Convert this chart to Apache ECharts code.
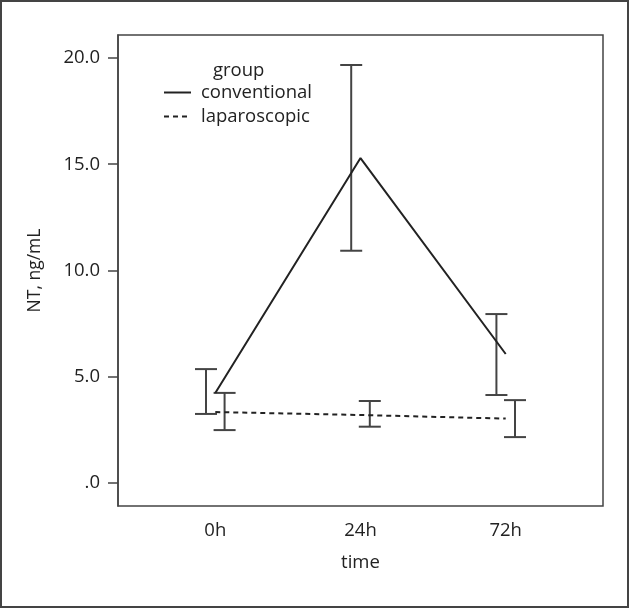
<!DOCTYPE html>
<html>
<head>
<meta charset="utf-8">
<script src="https://cdn.jsdelivr.net/npm/echarts@6/dist/echarts.min.js"></script>
<style>
html,body{margin:0;padding:0;background:#fff;}
#chart{width:630px;height:609px;}
</style>
</head>
<body>
<div id="chart"></div>
<script>
var categories = ['0h', '24h', '72h'];
var yTicks = [0, 5, 10, 15, 20];
var convMean = [4.24, 15.29, 6.07];
var convLow = [3.25, 10.93, 4.14];
var convHigh = [5.36, 19.67, 7.95];
var lapMean = [3.34, 3.20, 3.03];
var lapLow = [2.49, 2.65, 2.16];
var lapHigh = [4.24, 3.86, 3.90];

var FONT = 'Open Sans';
var FS = 18.5;
var TXT = '#222';
var OFF = 0.064;
var CAP = 11;

function errData(low, high, off) {
  return categories.map(function (c, i) { return [i + off, low[i], high[i]]; });
}
function errRender(params, api) {
  var x = api.value(0);
  var lo = api.coord([x, api.value(1)]);
  var hi = api.coord([x, api.value(2)]);
  var st = { stroke: '#444', lineWidth: 2 };
  return {
    type: 'group',
    children: [
      { type: 'line', shape: { x1: lo[0], y1: lo[1], x2: hi[0], y2: hi[1] }, style: st },
      { type: 'line', shape: { x1: lo[0] - CAP, y1: lo[1], x2: lo[0] + CAP, y2: lo[1] }, style: st },
      { type: 'line', shape: { x1: hi[0] - CAP, y1: hi[1], x2: hi[0] + CAP, y2: hi[1] }, style: st }
    ]
  };
}

var chart = echarts.init(document.getElementById('chart'), null, { renderer: 'canvas' });
chart.setOption({
  animation: false,
  backgroundColor: '#fff',
  textStyle: { fontFamily: FONT },
  title: {
    text: 'group', left: 213, top: 61, padding: 0,
    textStyle: { fontFamily: FONT, fontSize: FS, fontWeight: 'normal', color: TXT }
  },
  legend: {
    orient: 'vertical', left: 163, top: 83, itemGap: 5, padding: 0,
    itemWidth: 27, itemHeight: 14,
    itemStyle: { opacity: 0 },
    textStyle: { fontFamily: FONT, fontSize: FS, color: TXT, padding: [0, 0, 0, 5] },
    data: ['conventional', 'laparoscopic']
  },
  grid: {
    left: 118, top: 35, width: 485, height: 471,
    show: true, borderColor: '#444', borderWidth: 1.5, backgroundColor: '#fff'
  },
  xAxis: {
    type: 'value', min: -0.67, max: 2.67,
    splitLine: { show: false },
    axisLine: { show: false, onZero: false },
    axisTick: { show: false },
    axisLabel: {
      customValues: [0, 1, 2], margin: 15,
      fontFamily: FONT, fontSize: FS, color: TXT,
      formatter: function (v) { return categories[Math.round(v)]; }
    },
    name: 'time', nameLocation: 'middle', nameGap: 47,
    nameTextStyle: { fontFamily: FONT, fontSize: FS, color: TXT }
  },
  yAxis: {
    type: 'value', min: -1.082, max: 21.082,
    splitLine: { show: false },
    axisLine: { show: true, onZero: false, lineStyle: { color: '#444', width: 1.5 } },
    axisTick: { show: true, customValues: yTicks, length: 10, lineStyle: { color: '#444', width: 1.5 } },
    axisLabel: {
      customValues: yTicks, margin: 18,
      fontFamily: FONT, fontSize: FS, color: TXT,
      formatter: function (v) { return v === 0 ? '.0' : v.toFixed(1); }
    },
    name: 'NT, ng/mL', nameLocation: 'middle', nameGap: 74,
    nameTextStyle: { fontFamily: FONT, fontSize: 17.5, color: TXT }
  },
  graphic: [{
    type: 'rect', shape: { x: 1, y: 1, width: 627, height: 606 },
    style: { fill: 'none', stroke: '#444', lineWidth: 2 }, silent: true
  }],
  series: [
    {
      name: 'conventional', type: 'line', symbol: 'none',
      data: convMean.map(function (v, i) { return [i, v]; }),
      lineStyle: { color: '#222', width: 2, type: 'solid' },
      itemStyle: { color: '#222' }, z: 3
    },
    {
      name: 'laparoscopic', type: 'line', symbol: 'none',
      data: lapMean.map(function (v, i) { return [i, v]; }),
      lineStyle: { color: '#222', width: 2, type: [5, 4] },
      itemStyle: { color: '#222' }, z: 3
    },
    {
      name: 'convErr', type: 'custom', renderItem: errRender,
      data: errData(convLow, convHigh, -OFF), z: 2, silent: true
    },
    {
      name: 'lapErr', type: 'custom', renderItem: errRender,
      data: errData(lapLow, lapHigh, OFF), z: 2, silent: true
    }
  ]
});
</script>
</body>
</html>
